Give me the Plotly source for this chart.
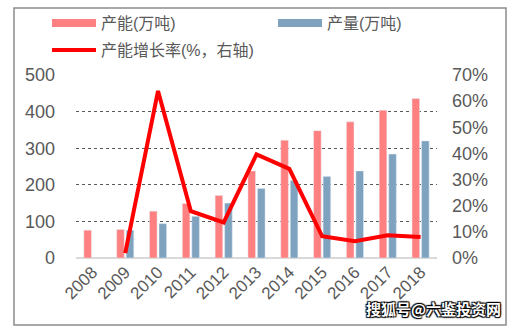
import plotly.graph_objects as go

years = ["2008", "2009", "2010", "2011", "2012", "2013", "2014", "2015", "2016", "2017", "2018"]
capacity = [76, 78, 128, 149, 171, 238, 322, 348, 372, 404, 436]
output = [None, 76, 94, 114, 150, 190, 212, 223, 238, 284, 320]
growth_years = years[1:]
growth = [0.019, 0.639, 0.179, 0.136, 0.396, 0.341, 0.083, 0.064, 0.087, 0.080]

name_cap = "产能(万吨)"
name_out = "产量(万吨)"
name_growth = "产能增长率(%，右轴)"

PINK = "#FF8080"
BLUE = "#7FA3BE"
RED = "#FF0000"
TXT = "#595959"
FONT = "Liberation Sans, Arial, Noto Sans CJK SC, sans-serif"

L, R, T, B = 76, 80, 75, 76
W, H = 517, 334
pw, ph = W - L - R, H - T - B

fig = go.Figure()
fig.add_trace(go.Bar(x=years, y=capacity, marker_color=PINK, showlegend=False, name=name_cap))
fig.add_trace(go.Bar(x=years, y=output, marker_color=BLUE, showlegend=False, name=name_out))
fig.add_trace(go.Scatter(x=growth_years, y=growth, yaxis="y2", mode="lines",
                         line=dict(color=RED, width=4), showlegend=False, name=name_growth))
# legend entries
fig.add_trace(go.Scatter(x=[None], y=[None], mode="lines", line=dict(color=PINK, width=8),
                         name=name_cap, legend="legend"))
fig.add_trace(go.Scatter(x=[None], y=[None], mode="lines", line=dict(color=BLUE, width=8),
                         name=name_out, legend="legend2"))
fig.add_trace(go.Scatter(x=[None], y=[None], mode="lines", line=dict(color=RED, width=4),
                         name=name_growth, legend="legend3"))

def px_x(p):
    return (p - L) / pw

def px_y(p):
    return (H - B - p) / ph

def cx(p):
    return p / W

def cy(p):
    return 1 - p / H

leg_common = dict(orientation="h", xanchor="left", yanchor="middle",
                  xref="container", yref="container",
                  itemwidth=44, font=dict(size=16, color=TXT, family=FONT),
                  bgcolor="rgba(0,0,0,0)")

fig.update_layout(
    width=W, height=H,
    margin=dict(l=L, r=R, t=T, b=B, autoexpand=False),
    paper_bgcolor="white", plot_bgcolor="white",
    font=dict(family=FONT, color=TXT, size=17),
    barmode="group", bargap=0.42, bargroupgap=0.2,
    xaxis=dict(type="category", tickangle=-45, showgrid=False, showline=False,
               ticks="", tickfont=dict(size=17, color=TXT)),
    yaxis=dict(range=[0, 500], dtick=100, showgrid=True, gridcolor="#595959",
               griddash="dot", gridwidth=1, zeroline=True, zerolinecolor="#D9D9D9",
               zerolinewidth=2, ticks="", showline=False, ticklabelstandoff=20,
               tickfont=dict(size=18, color=TXT)),
    yaxis2=dict(range=[0, 0.7], dtick=0.1, tickformat=".0%", overlaying="y", side="right",
                showgrid=False, zeroline=False, ticks="", showline=False,
                ticklabelstandoff=14, tickfont=dict(size=18, color=TXT)),
    legend=dict(x=cx(47), y=cy(23), **leg_common),
    legend2=dict(x=cx(273), y=cy(23), **leg_common),
    legend3=dict(x=cx(47), y=cy(50), **leg_common),
    shapes=[dict(type="rect", xref="paper", yref="paper",
                 x0=px_x(14), x1=px_x(506), y0=px_y(325), y1=px_y(8),
                 line=dict(color="#8C8C8C", width=1.5), fillcolor="rgba(0,0,0,0)")],
    annotations=[dict(text="<b>搜狐号@六鉴投资网</b>", xref="paper", yref="paper",
                      x=px_x(503), y=px_y(321), xanchor="right", yanchor="bottom",
                      showarrow=False,
                      font=dict(size=15, color="white", family="Noto Sans CJK SC",
                                shadow="1px 1px 1px #000, -1px -1px 1px #000, 1px -1px 1px #000, -1px 1px 1px #000"))],
)

fig.write_html("out.html")
